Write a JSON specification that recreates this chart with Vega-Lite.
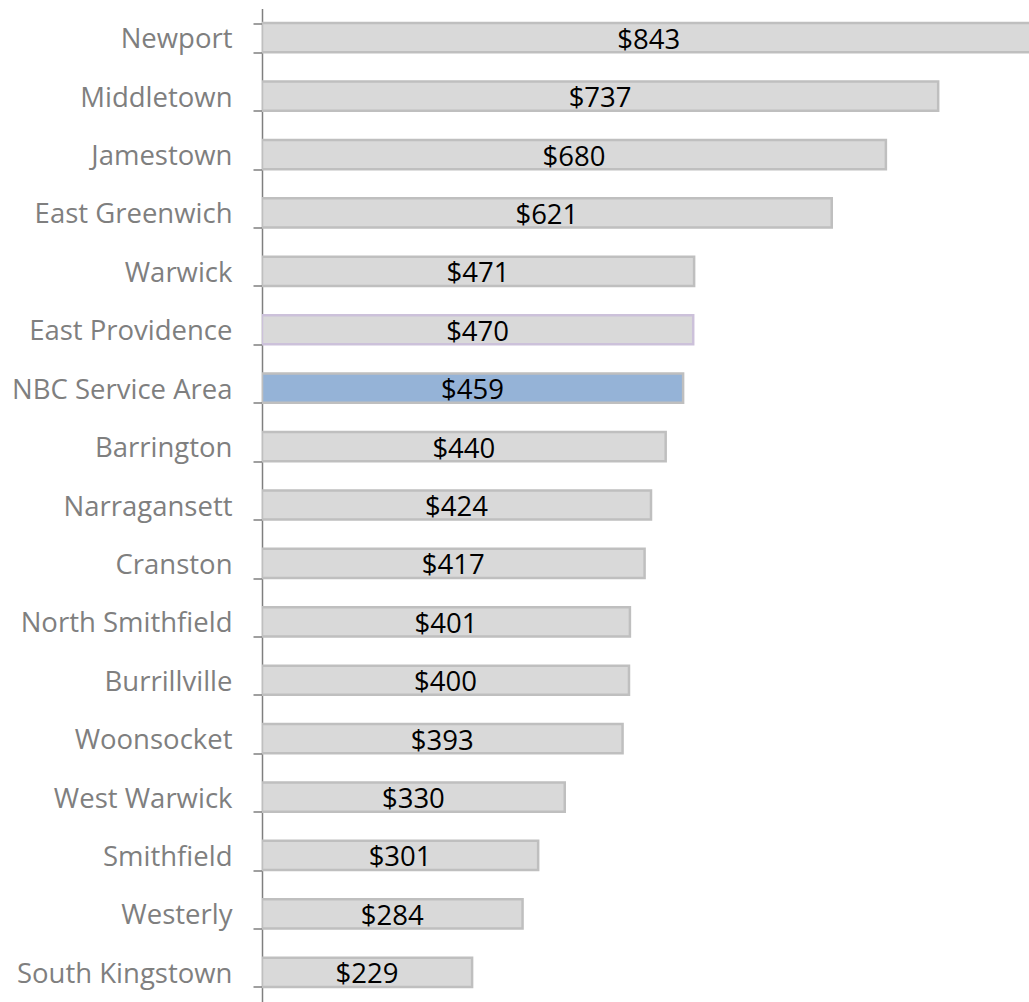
{
  "$schema": "https://vega.github.io/schema/vega-lite/v6.json",
  "autosize": {"type": "none"},
  "padding": {"left": 262, "top": 8.5, "right": 0, "bottom": 0},
  "width": 767,
  "height": 993,
  "background": "white",
  "config": {"view": {"stroke": null}},
  "data": {"values": [
    {"town": "Newport", "value": 843},
    {"town": "Middletown", "value": 737},
    {"town": "Jamestown", "value": 680},
    {"town": "East Greenwich", "value": 621},
    {"town": "Warwick", "value": 471},
    {"town": "East Providence", "value": 470},
    {"town": "NBC Service Area", "value": 459},
    {"town": "Barrington", "value": 440},
    {"town": "Narragansett", "value": 424},
    {"town": "Cranston", "value": 417},
    {"town": "North Smithfield", "value": 401},
    {"town": "Burrillville", "value": 400},
    {"town": "Woonsocket", "value": 393},
    {"town": "West Warwick", "value": 330},
    {"town": "Smithfield", "value": 301},
    {"town": "Westerly", "value": 284},
    {"town": "South Kingstown", "value": 229}
  ]},
  "encoding": {
    "y": {
      "field": "town", "type": "nominal", "sort": null,
      "scale": {"paddingInner": 0.5, "paddingOuter": 0.25},
      "axis": {
        "title": null, "domain": true, "domainColor": "#7f7f7f", "domainWidth": 1.5,
        "tickColor": "#7f7f7f", "tickWidth": 1.5, "tickSize": 9, "tickBand": "extent",
        "labelFont": "Open Sans", "labelFontSize": 27.5, "labelColor": "#7f7f7f",
        "labelPadding": 21, "labelLimit": 300, "labelOffset": 2
      }
    }
  },
  "layer": [
    {
      "mark": {"type": "bar", "clip": true, "strokeWidth": 2.5, "cornerRadius": 0},
      "encoding": {
        "x": {"field": "value", "type": "quantitative", "scale": {"domain": [0, 836], "nice": false}, "axis": null},
        "color": {
          "condition": {"test": "datum.town === 'NBC Service Area'", "value": "#95b3d7"},
          "value": "#d9d9d9"
        },
        "stroke": {
          "condition": {"test": "datum.town === 'East Providence'", "value": "#ccc1da"},
          "value": "#bfbfbf"
        }
      }
    },
    {
      "transform": [{"calculate": "datum.value / 2", "as": "mid"}],
      "mark": {"type": "text", "font": "Open Sans", "fontSize": 27.5, "color": "#000000", "align": "center", "baseline": "middle", "dy": 3},
      "encoding": {
        "x": {"field": "mid", "type": "quantitative"},
        "text": {"field": "value", "type": "quantitative", "format": "$,.0f"}
      }
    }
  ]
}
